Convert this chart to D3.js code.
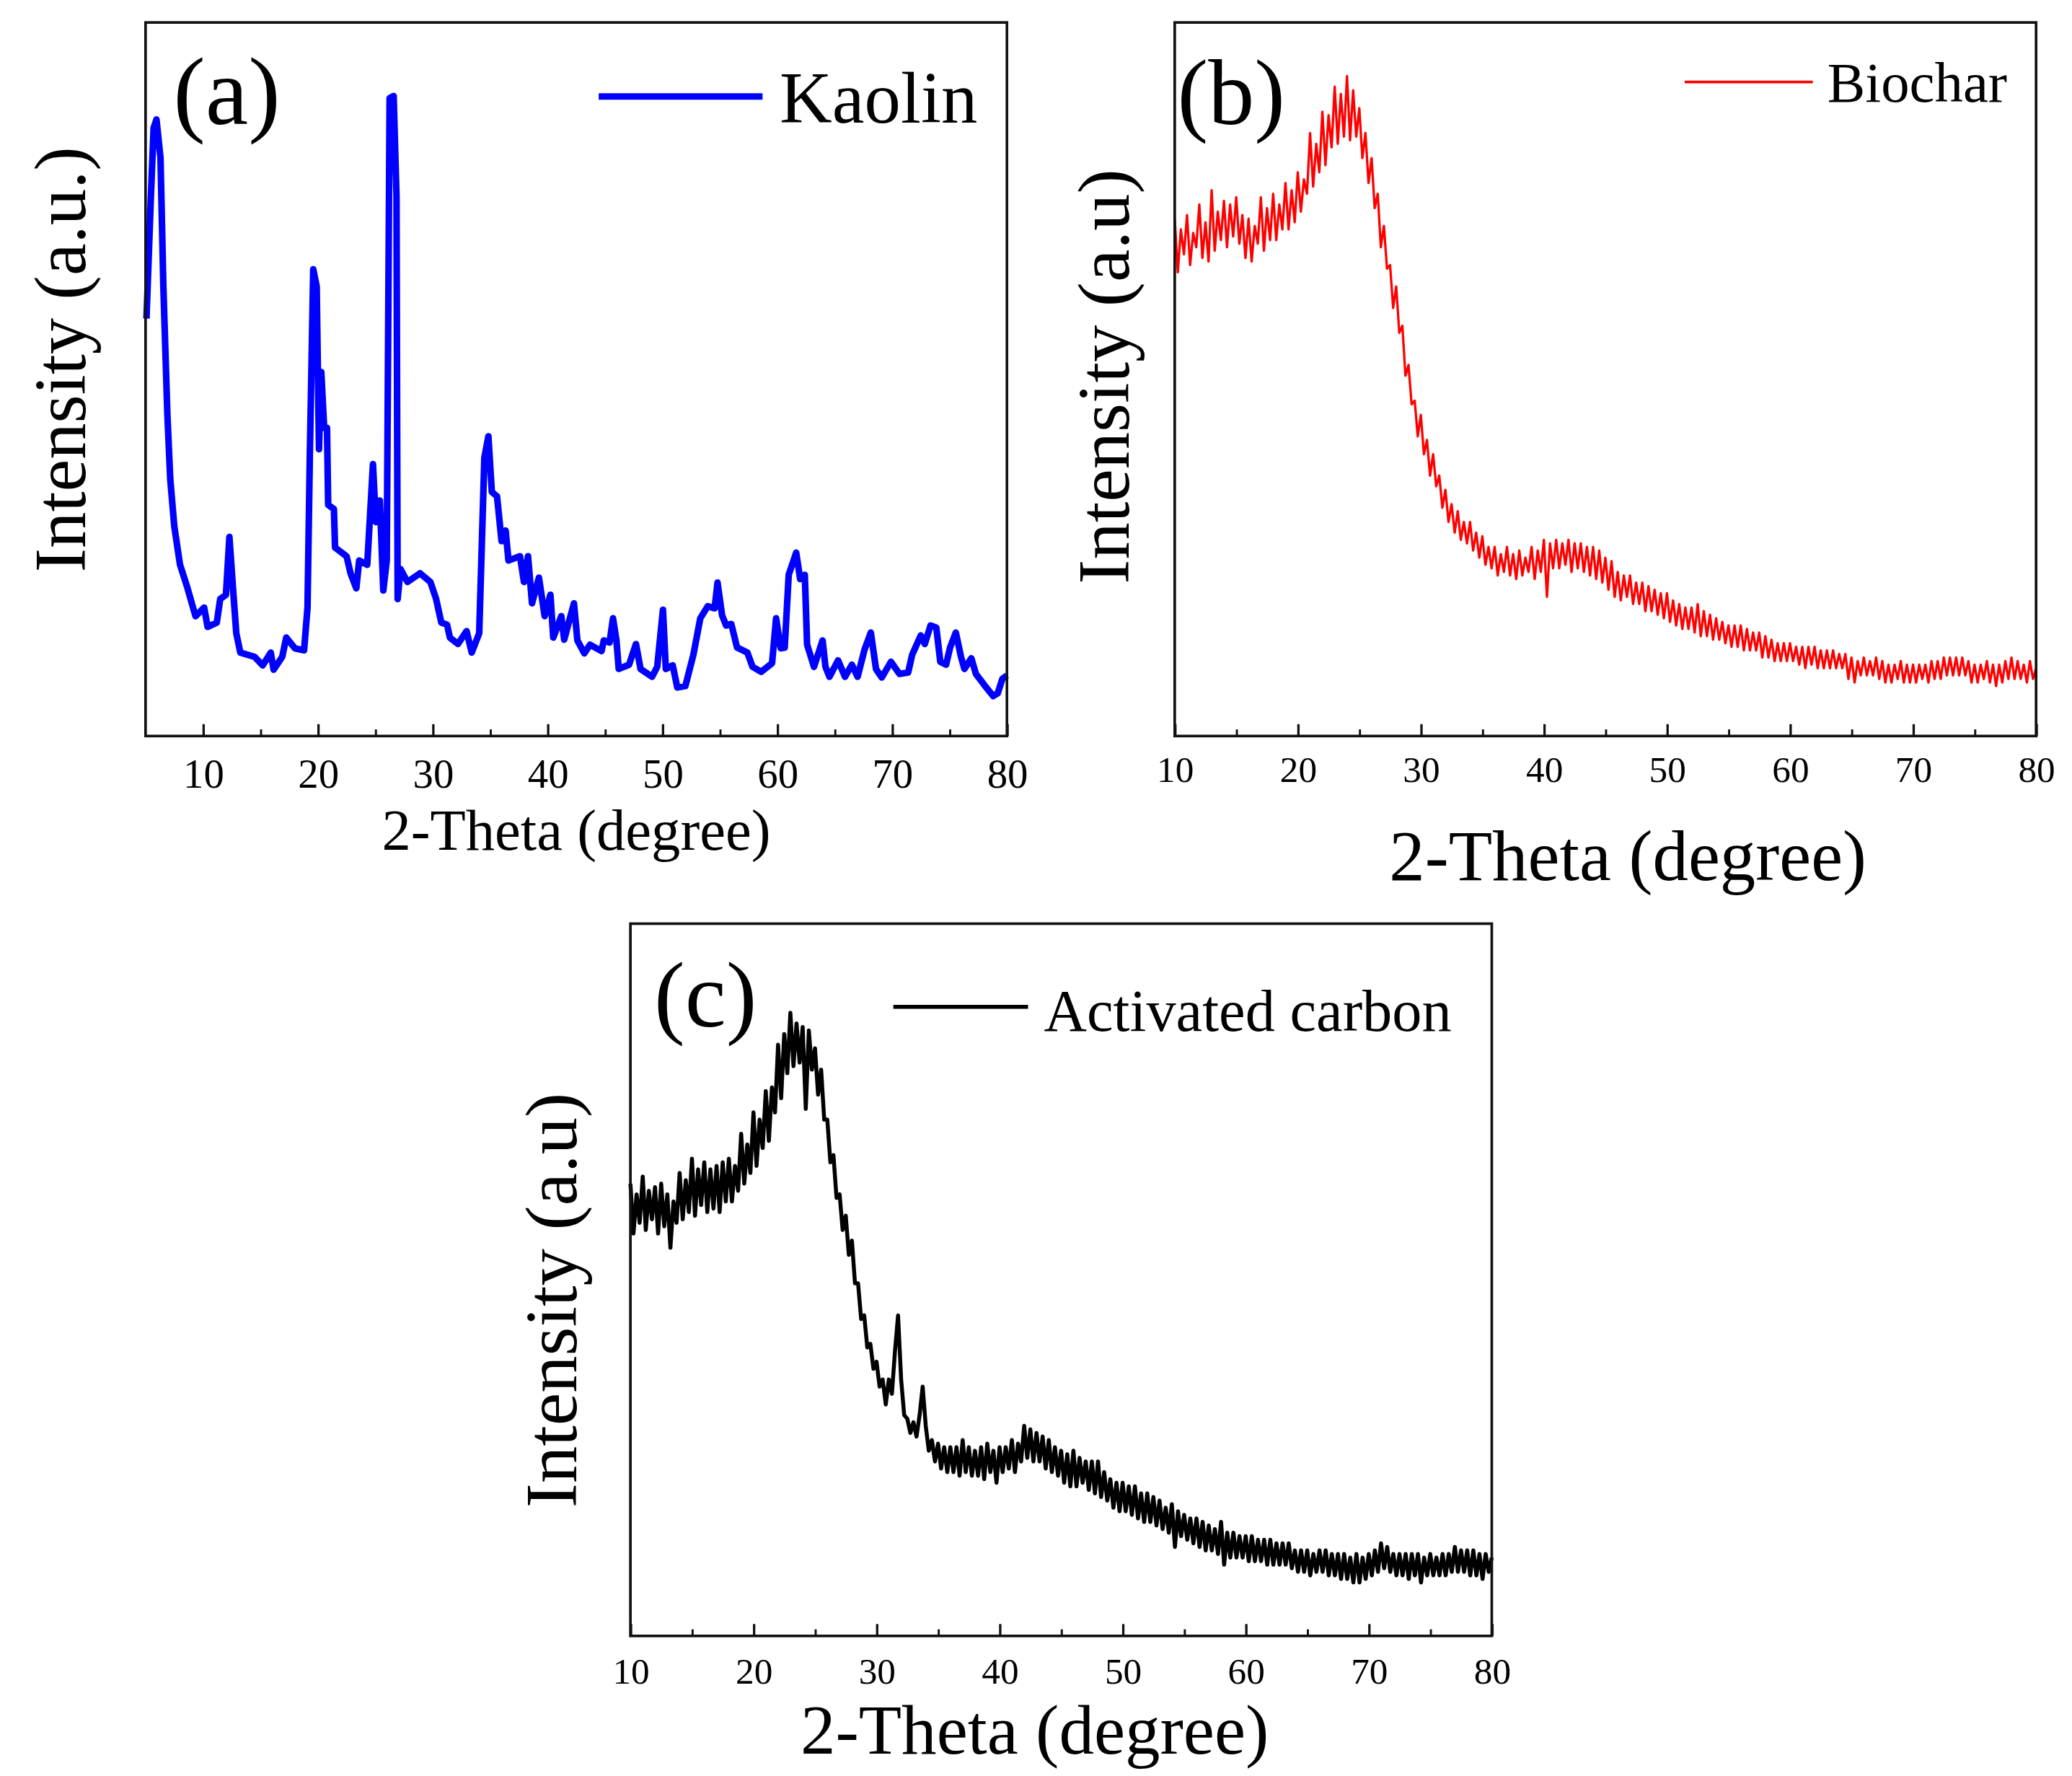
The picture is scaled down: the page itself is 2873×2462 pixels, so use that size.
<!DOCTYPE html>
<html>
<head>
<meta charset="utf-8">
<script src="https://cdn.jsdelivr.net/npm/d3@7"></script>
<style>
  body { margin: 0; background: #fff; }
  text { font-family: "Liberation Serif", "Times New Roman", serif; fill: #000; }
</style>
</head>
<body>
<svg id="fig" width="2873" height="2462" viewBox="0 0 1568 1344"></svg>
<script>
// XRD patterns, intensity in % of plot height
const kaolinTheta = [5.08, 5.45, 5.7, 5.95, 6.3, 6.55, 6.9, 7.15, 7.5, 8.0, 8.6, 9.35, 10.1, 10.4, 11.2, 11.5, 12.0, 12.3, 12.6, 12.9,
  13.25, 14.5, 15.2, 15.9, 16.15, 16.9, 17.25, 18.0, 18.8, 19.1, 19.3, 19.6, 19.9, 20.1, 20.3, 20.55, 20.8, 20.9, 21.4, 21.5,
  22.5, 22.85, 23.35, 23.6, 24.3, 24.8, 25.05, 25.4, 25.7, 26.0, 26.25, 26.6, 26.85, 26.95, 27.2, 27.8, 28.9, 29.8, 30.3, 30.75,
  31.25, 31.5, 32.2, 32.95, 33.4, 34.05, 34.5, 34.85, 35.15, 35.6, 36.0, 36.35, 36.6, 37.6, 37.95, 38.3, 38.65, 39.25, 39.75, 40.25,
  40.5, 41.2, 41.45, 42.3, 42.6, 43.2, 43.7, 44.7, 44.9, 45.4, 45.7, 46.0, 46.2, 47.1, 47.7, 48.1, 49.1, 49.55, 50.05, 50.3,
  50.9, 51.3, 52.0, 52.7, 53.3, 53.95, 54.55, 54.8, 55.2, 55.55, 56.0, 56.5, 57.4, 57.85, 58.6, 59.55, 59.9, 60.3, 60.65, 61.0,
  61.65, 62.0, 62.4, 62.6, 63.2, 63.95, 64.2, 64.55, 65.3, 65.9, 66.5, 67.0, 67.6, 68.15, 68.6, 69.1, 69.9, 70.65, 71.4, 71.75,
  72.5, 72.85, 73.35, 73.85, 74.2, 74.7, 75.05, 75.55, 76.0, 76.3, 76.9, 77.3, 78.1, 78.8, 79.2, 79.6, 80.0];
const kaolinI = [58.5, 75, 85.2, 86.4, 81, 63, 45, 36, 29.4, 24, 21, 16.8, 18, 15.3, 15.9, 19.2, 19.8, 27.9, 21, 14.4,
  11.7, 11.1, 9.9, 11.7, 9.3, 11.1, 13.8, 12.3, 12, 18, 39, 65.4, 63, 40.2, 51, 43.2, 43.2, 32.4, 31.8, 26.4,
  25.2, 22.8, 20.7, 24.6, 24, 38.1, 30, 33, 20.4, 24.6, 89.4, 89.7, 75.6, 19.2, 23.4, 21.6, 22.8, 21.6, 19.2, 15.9,
  15.6, 13.8, 12.9, 14.7, 11.7, 14.4, 39, 42, 34.2, 33.6, 27.3, 28.8, 24.6, 25.2, 21.6, 25.2, 18.6, 22.2, 16.8, 19.8,
  13.8, 16.8, 13.5, 18.6, 13.4, 11.6, 12.8, 11.9, 13.4, 13.1, 16.5, 13.4, 9.4, 10, 12.9, 9.4, 8.3, 9.7, 17.7, 9.4,
  9.9, 6.8, 7, 11.4, 16.5, 18.2, 17.9, 21.5, 16.9, 15.5, 15.7, 12.4, 11.7, 9.7, 9, 10.2, 16.5, 12.3, 12.4, 22.6,
  25.7, 22, 22.6, 12.8, 9.7, 13.4, 9.7, 8.3, 10.6, 8.3, 10, 8.3, 12.1, 14.5, 9.4, 8.2, 10.4, 8.7, 8.9, 11.4,
  14.1, 12.9, 15.5, 15.2, 10.4, 10, 12.4, 14.5, 11.1, 9.4, 10.9, 8.7, 7, 5.6, 6, 8, 8.5];

// Biochar and activated carbon: one reading every 0.25 degree from 10 to 80
const gridStart = 10, gridStep = 0.25;
const biocharI = [
  72.5, 65.0, 71.0, 67.5, 73.0, 66.0, 70.5, 68.5, 74.5, 67.0, 72.0, 66.5, 76.5, 68.0, 73.5, 69.5,
  75.0, 68.5, 74.5, 70.0, 75.5, 69.0, 73.0, 67.0, 72.5, 66.5, 71.5, 69.0, 75.5, 68.0, 74.0, 69.5,
  76.0, 69.5, 74.5, 71.0, 77.5, 71.0, 76.5, 72.0, 79.0, 73.5, 78.0, 76.0, 84.5, 77.0, 83.0, 79.0,
  87.5, 80.0, 87.0, 82.5, 91.0, 83.0, 90.0, 84.0, 92.5, 83.5, 90.5, 84.0, 88.0, 81.0, 84.5, 77.5,
  81.0, 74.0, 76.0, 68.5, 71.5, 65.5, 66.0, 60.0, 63.0, 56.5, 57.5, 50.5, 52.0, 46.5, 47.0, 42.0,
  45.0, 39.5, 41.5, 36.5, 39.5, 35.0, 36.5, 32.0, 34.5, 30.0, 32.5, 28.5, 31.5, 27.5, 30.0, 27.0,
  30.0, 26.0, 28.5, 25.0, 28.0, 24.0, 26.5, 23.5, 26.5, 22.5, 25.5, 23.0, 26.5, 22.5, 25.5, 22.0,
  26.0, 22.5, 25.0, 23.0, 26.5, 22.0, 26.0, 23.0, 27.5, 19.5, 27.0, 23.5, 27.5, 23.5, 27.0, 24.0,
  27.5, 23.0, 27.0, 23.5, 27.0, 23.0, 26.5, 22.5, 26.5, 22.0, 26.0, 21.5, 25.0, 20.5, 24.5, 19.5,
  23.0, 19.0, 22.5, 19.5, 22.5, 18.5, 21.5, 18.5, 21.5, 17.5, 21.0, 17.5, 20.5, 17.0, 20.0, 16.5,
  20.0, 16.0, 19.0, 15.5, 18.5, 15.0, 18.0, 15.0, 18.0, 14.5, 18.5, 14.0, 17.5, 14.0, 17.0, 13.5,
  16.5, 13.5, 16.0, 13.0, 15.5, 12.5, 15.5, 12.5, 15.5, 12.0, 15.0, 12.0, 14.5, 12.0, 14.5, 11.0,
  14.0, 11.0, 13.5, 10.5, 13.0, 10.5, 13.0, 10.5, 13.0, 10.5, 12.5, 10.0, 12.5, 9.5, 12.5, 10.0,
  12.5, 9.5, 12.0, 9.5, 12.0, 9.5, 12.0, 9.5, 11.5, 9.5, 11.5, 8.0, 11.0, 7.5, 10.5, 8.5,
  11.0, 8.5, 10.5, 8.5, 11.0, 8.0, 10.5, 7.5, 10.0, 7.5, 10.0, 8.0, 10.5, 7.5, 10.0, 7.5,
  10.0, 7.5, 10.0, 8.0, 10.0, 7.5, 10.5, 8.0, 10.5, 8.0, 11.0, 8.5, 11.0, 8.5, 11.0, 8.5,
  11.0, 8.5, 10.5, 7.5, 10.0, 7.5, 10.0, 8.0, 10.5, 7.5, 10.0, 7.0, 10.0, 7.5, 10.5, 8.0,
  11.0, 8.0, 10.5, 8.0, 10.0, 7.5, 10.5, 8.0, 9.5];
const carbonI = [
  63.5, 56.5, 62.0, 58.0, 64.5, 57.0, 62.5, 58.5, 63.0, 56.5, 63.5, 57.5, 62.0, 54.5, 61.0, 58.0,
  65.0, 58.5, 64.0, 59.5, 67.0, 59.0, 65.5, 60.5, 66.5, 59.5, 65.5, 60.0, 66.0, 59.5, 66.5, 61.0,
  67.0, 61.0, 66.0, 62.5, 70.5, 63.5, 69.0, 65.0, 73.5, 66.0, 72.5, 68.5, 76.5, 69.5, 77.0, 73.5,
  83.0, 75.5, 84.5, 79.0, 87.5, 80.0, 86.0, 80.5, 85.5, 74.0, 85.0, 79.5, 82.5, 76.0, 79.5, 72.5,
  72.5, 66.5, 67.5, 61.5, 62.0, 57.0, 59.0, 53.5, 55.5, 49.5, 49.5, 44.5, 45.0, 40.5, 41.0, 37.5,
  38.5, 35.0, 36.0, 32.5, 36.0, 34.0, 40.0, 45.0, 36.0, 31.0, 30.5, 28.5, 30.0, 28.0, 31.0, 35.0,
  29.5, 26.0, 27.5, 24.5, 27.0, 23.5, 26.5, 23.0, 26.5, 23.0, 26.5, 22.5, 27.5, 23.0, 26.5, 22.5,
  26.0, 22.5, 26.5, 22.0, 27.0, 23.0, 26.0, 21.5, 26.5, 23.0, 26.5, 23.5, 27.5, 23.0, 27.0, 24.5,
  29.5, 25.0, 29.0, 24.5, 28.5, 24.5, 28.0, 23.5, 27.5, 23.0, 26.5, 22.5, 26.0, 21.5, 25.5, 21.0,
  26.0, 21.0, 25.0, 21.5, 24.5, 20.5, 24.5, 20.0, 24.5, 19.5, 23.0, 19.0, 22.0, 18.0, 21.5, 17.5,
  21.5, 17.5, 21.0, 17.0, 21.0, 16.5, 20.0, 16.0, 20.0, 16.0, 19.5, 15.5, 19.0, 15.0, 18.0, 14.5,
  18.5, 12.5, 17.5, 14.0, 17.0, 13.5, 16.5, 13.0, 16.5, 12.5, 16.0, 12.0, 15.5, 12.0, 15.0, 11.5,
  16.0, 10.0, 14.5, 11.0, 14.5, 11.0, 14.0, 11.0, 14.0, 10.5, 14.0, 10.5, 13.5, 10.5, 13.5, 10.0,
  13.5, 10.0, 13.0, 10.0, 13.0, 10.0, 13.0, 9.5, 12.0, 9.0, 12.0, 9.0, 12.0, 8.5, 11.5, 9.0,
  12.0, 9.0, 12.0, 8.5, 11.5, 8.5, 11.5, 8.0, 11.5, 8.0, 11.0, 7.5, 11.5, 7.5, 11.0, 8.0,
  11.5, 8.5, 12.0, 9.0, 13.0, 9.5, 12.5, 9.0, 11.5, 8.5, 11.5, 8.5, 11.5, 8.0, 11.5, 8.5,
  11.5, 7.5, 11.0, 8.5, 11.5, 8.5, 11.0, 8.5, 11.5, 8.5, 11.5, 9.0, 12.5, 9.0, 12.0, 9.0,
  12.0, 8.5, 12.0, 8.5, 11.5, 8.0, 11.5, 9.0, 11.0];

const majorTicks = [10, 20, 30, 40, 50, 60, 70, 80];
const minorTicks = [5, 15, 25, 35, 45, 55, 65, 75];

const gridTheta = biocharI.map((d, i) => gridStart + i * gridStep);

const svg = d3.select("#fig");

const panels = [
  {
    box: [110, 17, 762, 557], xDomain: [5, 80],
    theta: kaolinTheta, values: kaolinI, color: "#0000ff", width: 5,
    tag: "(a)", tagPos: [131, 94], tagSize: 73,
    legend: "Kaolin", legendLine: [453, 577, 73], legendWidth: 5, legendText: [590, 93], legendSize: 55,
    tickSize: 31, tickPad: 17,
    xTitle: "2-Theta (degree)", xTitlePos: [436, 643], xTitleSize: 44,
    yTitle: "Intensity (a.u.)", yTitlePos: [64, 272], yTitleSize: 55
  },
  {
    box: [889, 17, 1541, 557], xDomain: [10, 80],
    theta: gridTheta, values: biocharI, color: "#ff0000", width: 1.8,
    tag: "(b)", tagPos: [891, 94], tagSize: 70,
    legend: "Biochar", legendLine: [1275, 1372, 62], legendWidth: 2, legendText: [1383, 77], legendSize: 43,
    tickSize: 28, tickPad: 15,
    xTitle: "2-Theta (degree)", xTitlePos: [1232, 666], xTitleSize: 54,
    yTitle: "Intensity (a.u)", yTitlePos: [854, 285], yTitleSize: 56
  },
  {
    box: [477, 699, 1129, 1238], xDomain: [10, 80],
    theta: gridTheta, values: carbonI, color: "#000000", width: 3,
    tag: "(c)", tagPos: [495, 777], tagSize: 70,
    legend: "Activated carbon", legendLine: [676, 778, 762], legendWidth: 3, legendText: [790, 780], legendSize: 45,
    tickSize: 28, tickPad: 16,
    xTitle: "2-Theta (degree)", xTitlePos: [783, 1327], xTitleSize: 53,
    yTitle: "Intensity (a.u)", yTitlePos: [436, 984], yTitleSize: 56
  }
];

panels.forEach(p => {
  const [x0, y0, x1, y1] = p.box;
  const x = d3.scaleLinear().domain(p.xDomain).range([x0, x1]);
  const y = d3.scaleLinear().domain([0, 100]).range([y1, y0]);

  const line = d3.line()
    .x((d, i) => x(p.theta[i]))
    .y(d => y(d));

  svg.append("path")
    .datum(p.values)
    .attr("d", line)
    .attr("fill", "none")
    .attr("stroke", p.color)
    .attr("stroke-width", p.width)
    .attr("stroke-linejoin", "round");

  // inward ticks along the bottom
  svg.append("g")
    .attr("transform", `translate(0,${y1})`)
    .call(d3.axisBottom(x).tickValues(minorTicks.filter(t => t > p.xDomain[0])).tickSize(-5).tickFormat(""))
    .call(g => g.select(".domain").remove())
    .call(g => g.selectAll("line").attr("stroke", "#111").attr("stroke-width", 1.6));

  svg.append("g")
    .attr("transform", `translate(0,${y1})`)
    .call(d3.axisBottom(x).tickValues(majorTicks).tickSize(-9).tickPadding(p.tickPad).tickFormat(d3.format("d")))
    .call(g => g.select(".domain").remove())
    .call(g => g.selectAll("line").attr("stroke", "#111").attr("stroke-width", 1.8))
    .call(g => g.selectAll("text")
      .attr("font-family", "Liberation Serif")
      .attr("font-size", p.tickSize)
      .attr("fill", "#000"));

  svg.append("rect")
    .attr("x", x0).attr("y", y0)
    .attr("width", x1 - x0).attr("height", y1 - y0)
    .attr("fill", "none")
    .attr("stroke", "#111")
    .attr("stroke-width", 2);

  svg.append("text")
    .text(p.tag)
    .attr("x", p.tagPos[0]).attr("y", p.tagPos[1])
    .attr("font-size", p.tagSize);

  svg.append("line")
    .attr("x1", p.legendLine[0]).attr("x2", p.legendLine[1])
    .attr("y1", p.legendLine[2]).attr("y2", p.legendLine[2])
    .attr("stroke", p.color)
    .attr("stroke-width", p.legendWidth);

  svg.append("text")
    .text(p.legend)
    .attr("x", p.legendText[0]).attr("y", p.legendText[1])
    .attr("font-size", p.legendSize);

  svg.append("text")
    .text(p.xTitle)
    .attr("x", p.xTitlePos[0]).attr("y", p.xTitlePos[1])
    .attr("text-anchor", "middle")
    .attr("font-size", p.xTitleSize);

  svg.append("text")
    .text(p.yTitle)
    .attr("transform", `translate(${p.yTitlePos[0]},${p.yTitlePos[1]}) rotate(-90)`)
    .attr("text-anchor", "middle")
    .attr("font-size", p.yTitleSize);
});
</script>
</body>
</html>
